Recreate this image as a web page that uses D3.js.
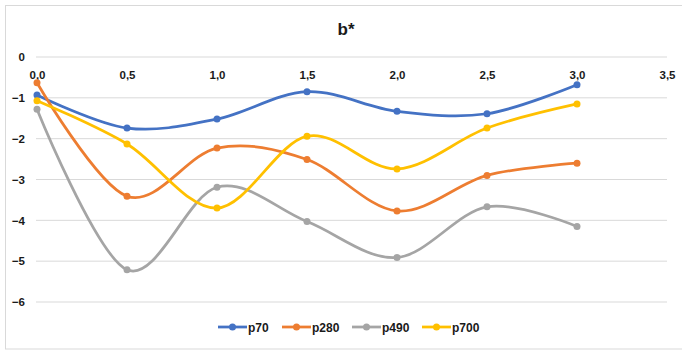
<!DOCTYPE html>
<html><head><meta charset="utf-8">
<script src="https://cdn.jsdelivr.net/npm/d3@7"></script>
<style>body{margin:0;background:#fff}svg{display:block}text{font-family:"Liberation Sans",Arial,sans-serif}</style>
</head><body><svg id="c" width="682" height="350"></svg>
<script>
const xValues = [0.0, 0.5, 1.0, 1.5, 2.0, 2.5, 3.0];
const seriesNames = ["p70", "p280", "p490", "p700"];
const p70 = [-0.93, -1.74, -1.52, -0.85, -1.33, -1.39, -0.68];
const p280 = [-0.63, -3.41, -2.23, -2.51, -3.77, -2.90, -2.60];
const p490 = [-1.28, -5.21, -3.19, -4.03, -4.91, -3.67, -4.15];
const p700 = [-1.07, -2.13, -3.70, -1.94, -2.74, -1.74, -1.15];
const colors = ["#4472C4", "#ED7D31", "#A5A5A5", "#FFC000"];
const xTicks = [0, 0.5, 1, 1.5, 2, 2.5, 3, 3.5];
const yTicks = [0, -1, -2, -3, -4, -5, -6];
const title = "b*";

const svg = d3.select("#c");
const fmt = d => d3.format(".1f")(d).replace(".", ",");
svg.append("rect").attr("x",5.5).attr("y",5.5).attr("width",680).attr("height",343.5)
  .attr("fill","#fff").attr("stroke","#d9d9d9");

const x = d3.scaleLinear().domain([0, 3.5]).range([37, 667]);
const y = d3.scaleLinear().domain([-6, 0]).range([302, 57]);

svg.append("g").selectAll("line").data(yTicks).join("line")
  .attr("x1", 36).attr("x2", 667).attr("y1", d => y(d)).attr("y2", d => y(d))
  .attr("stroke", "#d9d9d9").attr("stroke-width", 1);

const yAxis = d3.axisLeft(y).tickValues(yTicks).tickSize(0).tickPadding(0).tickFormat(d => d3.format("d")(d));
const gy = svg.append("g").attr("transform", "translate(25,0)").call(yAxis);
gy.select(".domain").remove();
gy.selectAll("text").attr("font-size", 11.5).attr("font-weight", "bold").attr("fill", "#1a1a1a")
  .attr("font-family", "Liberation Sans, Arial, sans-serif");

const xAxis = d3.axisBottom(x).tickValues(xTicks).tickSize(0).tickPadding(0).tickFormat(fmt);
const gx = svg.append("g").attr("transform", `translate(0,${y(0)+14})`).call(xAxis);
gx.select(".domain").remove();
gx.selectAll("text").attr("font-size", 11.5).attr("font-weight", "bold").attr("fill", "#1a1a1a")
  .attr("font-family", "Liberation Sans, Arial, sans-serif");

svg.append("text").attr("x", 346).attr("y", 35).attr("text-anchor", "middle")
  .attr("font-size", 17).attr("font-weight", "bold").attr("fill", "#1a1a1a").text(title);

const data = [p70, p280, p490, p700];
const line = d3.line().x((d, i) => x(xValues[i])).y(d => y(d)).curve(d3.curveCardinal.tension(0));
data.forEach((vals, k) => {
  svg.append("path").datum(vals).attr("d", line).attr("fill", "none")
    .attr("stroke", colors[k]).attr("stroke-width", 2.75).attr("stroke-linecap", "round");
  svg.append("g").selectAll("circle").data(vals).join("circle")
    .attr("cx", (d, i) => x(xValues[i])).attr("cy", d => y(d)).attr("r", 3.5).attr("fill", colors[k]);
});

const legX = [218, 282, 352, 422];
const lg = svg.append("g");
seriesNames.forEach((n, k) => {
  const g = lg.append("g").attr("transform", `translate(${legX[k]},327)`);
  g.append("line").attr("x1", 0).attr("x2", 29).attr("y1", 0).attr("y2", 0)
    .attr("stroke", colors[k]).attr("stroke-width", 2.75);
  g.append("circle").attr("cx", 14.5).attr("cy", 0).attr("r", 3.5).attr("fill", colors[k]);
  g.append("text").attr("x", 30).attr("y", 4.5).attr("font-size", 12).attr("font-weight", "bold")
    .attr("fill", "#1a1a1a").text(n);
});
</script></body></html>
